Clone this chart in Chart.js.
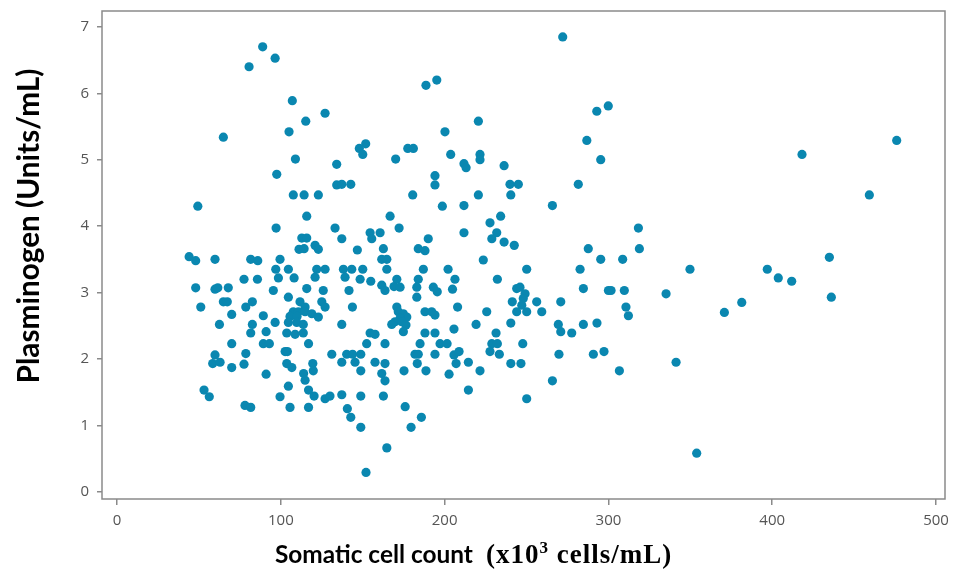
<!DOCTYPE html>
<html>
<head>
<meta charset="utf-8">
<script src="https://cdn.jsdelivr.net/npm/chart.js@4"></script>
<style>
  html, body { margin: 0; padding: 0; background: #fff; }
  canvas { display: block; }
</style>
</head>
<body>
<canvas id="scc" width="957" height="575"></canvas>
<script>
// somatic cell count (x10^3 cells/mL) for each milk sample
const cellCount = [
  88.9, 96.5, 80.6, 107.0, 115.2, 105.0, 64.9, 108.9, 97.5, 188.6,
  195.2, 127.0, 200.2, 151.8, 147.9, 150.0, 134.1, 170.1, 177.5, 180.9,
  203.7, 194.1, 194.1, 134.1, 137.2, 142.7, 272.1, 292.9, 299.9, 220.6,
  286.8, 295.3, 211.8, 213.1, 221.6, 221.6, 236.3, 239.9, 245.0, 281.6,
  418.2, 476.0, 49.3, 107.6, 114.2, 115.8, 97.1, 112.8, 115.8, 111.1,
  114.2, 44.0, 48.0, 59.8, 81.6, 85.9, 99.5, 96.9, 104.6, 98.5,
  108.1, 77.5, 85.7, 48.0, 59.8, 61.5, 67.9, 95.4, 115.8, 104.6,
  51.1, 64.9, 67.3, 78.6, 82.6, 111.7, 114.8, 70.0, 89.3, 107.6,
  110.7, 114.8, 105.6, 109.9, 62.5, 82.6, 96.5, 104.6, 109.7, 113.7,
  81.6, 91.0, 103.6, 108.7, 113.7, 122.9, 180.5, 198.6, 166.7, 133.1,
  172.2, 154.5, 160.6, 155.5, 137.2, 190.0, 120.9, 122.9, 146.7, 162.6,
  183.9, 188.0, 161.6, 164.7, 121.9, 127.0, 138.2, 143.3, 150.0, 164.7,
  187.0, 202.1, 120.9, 139.2, 148.4, 154.9, 161.6, 163.6, 170.8, 169.1,
  183.9, 183.0, 193.1, 195.5, 206.3, 204.8, 125.9, 141.6, 172.8, 183.0,
  118.9, 122.9, 125.0, 127.0, 143.7, 170.8, 171.7, 174.8, 176.9, 172.8,
  169.7, 167.7, 173.8, 176.4, 188.0, 192.1, 194.1, 207.9, 137.2, 154.5,
  157.5, 174.8, 188.0, 194.1, 205.7, 240.4, 220.6, 211.8, 265.8, 234.2,
  227.7, 231.8, 228.8, 236.3, 242.5, 211.8, 287.7, 295.3, 223.6, 250.1,
  282.7, 232.2, 244.0, 246.0, 249.1, 248.0, 247.1, 250.1, 244.0, 241.3,
  256.2, 259.3, 284.7, 300.0, 225.7, 270.9, 219.2, 240.4, 231.4, 269.4,
  270.9, 277.6, 284.7, 293.0, 459.3, 318.3, 318.9, 308.7, 349.8, 397.0,
  403.7, 411.9, 434.9, 436.1, 301.6, 309.7, 335.2, 310.7, 312.2, 381.4,
  370.8, 297.3, 306.7, 341.3, 353.9, 70.0, 89.3, 93.0, 102.6, 104.0,
  116.9, 59.8, 58.4, 62.9, 78.6, 70.0, 77.5, 91.0, 103.6, 106.7,
  113.9, 114.8, 104.6, 99.5, 53.1, 56.3, 78.1, 81.6, 105.6, 116.9,
  116.9, 119.5, 119.8, 120.3, 127.0, 130.0, 137.2, 152.4, 163.6, 185.0,
  197.2, 201.5, 131.1, 140.2, 143.8, 148.8, 181.9, 183.9, 194.1, 205.7,
  208.8, 137.2, 145.3, 157.5, 163.6, 183.3, 207.0, 148.8, 161.6, 163.6,
  175.2, 188.6, 202.7, 148.8, 162.6, 140.6, 142.7, 148.8, 175.9, 185.8,
  179.5, 164.7, 152.0, 228.8, 232.2, 247.7, 227.7, 233.4, 269.8, 290.8,
  214.5, 221.6, 240.4, 246.6, 214.5, 265.8, 250.1
];

// plasminogen (Units/mL), same order as cellCount
const plasminogen = [
  6.70, 6.53, 6.40, 5.89, 5.58, 5.42, 5.34, 5.01, 4.78, 6.12,
  6.20, 5.70, 5.42, 5.24, 5.17, 5.08, 4.93, 5.01, 5.17, 5.17,
  5.08, 4.76, 4.62, 4.62, 4.63, 4.63, 6.85, 5.73, 5.81, 5.58,
  5.29, 5.00, 4.94, 4.88, 5.08, 5.00, 4.91, 4.63, 4.63, 4.63,
  5.08, 5.29, 4.30, 4.47, 4.47, 4.15, 3.97, 3.82, 3.82, 3.65,
  3.66, 3.54, 3.48, 3.50, 3.50, 3.48, 3.50, 3.35, 3.35, 3.22,
  3.22, 3.20, 3.20, 3.07, 3.05, 3.07, 3.07, 3.03, 3.06, 2.93,
  2.78, 2.86, 2.86, 2.78, 2.86, 2.86, 2.78, 2.67, 2.65, 2.71,
  2.71, 2.71, 2.64, 2.64, 2.52, 2.52, 2.55, 2.55, 2.55, 2.52,
  2.39, 2.41, 2.39, 2.37, 2.39, 4.47, 4.47, 4.30, 4.15, 3.97,
  3.97, 3.90, 3.90, 3.81, 3.81, 3.81, 3.71, 3.65, 3.64, 3.66,
  3.66, 3.63, 3.50, 3.50, 3.35, 3.35, 3.35, 3.35, 3.35, 3.35,
  3.35, 3.35, 3.23, 3.23, 3.20, 3.17, 3.11, 3.03, 3.20, 3.09,
  3.20, 3.08, 3.08, 3.01, 3.20, 3.05, 3.03, 3.03, 3.08, 2.93,
  2.68, 2.63, 2.86, 2.78, 2.78, 2.78, 2.71, 2.68, 2.63, 2.61,
  2.56, 2.52, 2.56, 2.51, 2.71, 2.71, 2.66, 2.78, 2.52, 2.39,
  2.37, 2.41, 2.39, 2.39, 2.45, 4.47, 4.47, 4.31, 4.31, 4.15,
  4.05, 3.90, 3.81, 3.76, 3.71, 3.90, 3.66, 3.50, 3.49, 3.35,
  3.35, 3.20, 3.06, 3.08, 2.98, 2.91, 2.81, 2.71, 2.71, 2.86,
  2.86, 2.71, 3.06, 3.03, 2.71, 2.86, 2.52, 2.54, 2.39, 2.52,
  2.41, 2.39, 2.52, 2.54, 4.47, 3.97, 3.66, 3.50, 3.35, 3.35,
  3.22, 3.17, 3.53, 2.93, 3.03, 3.03, 2.98, 2.78, 2.65, 2.85,
  2.70, 2.11, 1.82, 1.95, 0.58, 2.23, 2.23, 2.23, 2.11, 2.11,
  2.23, 2.06, 1.93, 1.95, 2.08, 1.87, 1.92, 1.77, 1.93, 1.87,
  1.78, 1.68, 1.59, 1.43, 1.53, 1.43, 1.30, 1.27, 1.27, 1.27,
  1.53, 1.93, 1.82, 1.44, 1.40, 1.44, 1.46, 2.23, 2.23, 2.23,
  2.23, 2.23, 2.07, 2.07, 2.07, 2.07, 2.07, 2.07, 2.07, 2.06,
  2.11, 1.95, 1.95, 1.95, 1.93, 1.93, 1.93, 1.82, 1.78, 1.67,
  1.82, 1.82, 1.77, 1.44, 1.44, 1.25, 1.12, 0.97, 1.28, 1.12,
  0.97, 0.66, 0.29, 2.23, 2.23, 2.23, 2.11, 2.07, 2.07, 2.07,
  1.95, 1.82, 1.93, 1.93, 1.53, 1.67, 1.40
];

const xTicks = [0, 100, 200, 300, 400, 500];
const yTicks = [0, 1, 2, 3, 4, 5, 6, 7];

const dotColor = '#0a87b0';
const frameColor = '#8a8a8a';
const tickFont = { family: 'Open Sans', size: 15 };
const tickColor = '#555';

// set a bold font whose size makes `text` exactly `width` px wide
function fitFont(ctx, text, family, width) {
  ctx.font = `bold 20px ${family}`;
  const size = 20 * width / ctx.measureText(text).width;
  ctx.font = `bold ${size.toFixed(2)}px ${family}`;
  return size;
}

// box around the plot area plus both axis titles
const framePlugin = {
  id: 'frameAndTitles',
  afterDraw(chart) {
    const { ctx, chartArea: a } = chart;
    ctx.save();
    ctx.strokeStyle = frameColor;
    ctx.lineWidth = 1.5;
    ctx.strokeRect(a.left, a.top, a.right - a.left, a.bottom - a.top);

    ctx.fillStyle = '#000';
    ctx.textBaseline = 'alphabetic';

    // y title, rotated
    ctx.save();
    ctx.translate(39, 226);
    ctx.rotate(-Math.PI / 2);
    ctx.textAlign = 'center';
    const yTitle = 'Plasminogen (Units/mL)';
    fitFont(ctx, yTitle, 'Lato', 315);
    ctx.fillText(yTitle, 0, 0);
    ctx.restore();

    // x title: sans part, then serif part with superscript
    const base = 563;
    let x = 275;
    ctx.textAlign = 'left';
    const p1 = 'Somatic cell count';
    fitFont(ctx, p1, 'Lato', 198);
    ctx.fillText(p1, x, base);
    x = 486;
    const serif = '"Liberation Serif"';
    ctx.letterSpacing = '1px';
    ctx.font = `bold 27px ${serif}`;
    ctx.fillText('(x10', x, base);
    x += ctx.measureText('(x10').width;
    ctx.font = `bold 17px ${serif}`;
    ctx.fillText('3', x, base - 10);
    x += ctx.measureText('3').width;
    ctx.font = `bold 27px ${serif}`;
    ctx.fillText(' cells/mL)', x, base);
    ctx.restore();
  }
};

// drop the label overhang padding so the plot box sits where the layout puts it
function noOverhang(s) {
  s.paddingTop = 0;
  s.paddingBottom = 0;
  s.paddingLeft = 0;
  s.paddingRight = 0;
}

new Chart(document.getElementById('scc'), {
  type: 'scatter',
  data: {
    datasets: [{
      data: cellCount.map((v, i) => ({ x: v, y: plasminogen[i] })),
      backgroundColor: dotColor,
      borderWidth: 0,
      pointRadius: 4.6,
      pointHoverRadius: 4.6
    }]
  },
  options: {
    responsive: false,
    animation: false,
    devicePixelRatio: 1,
    layout: { padding: { left: 0, top: 11, right: 12, bottom: 0 } },
    plugins: { legend: { display: false }, tooltip: { enabled: false } },
    scales: {
      x: {
        type: 'linear',
        min: -9.2,
        max: 505.5,
        afterBuildTicks: s => { s.ticks = xTicks.map(v => ({ value: v })); },
        afterFit: s => { s.height = 76; noOverhang(s); },
        border: { display: false },
        grid: { drawOnChartArea: false, tickLength: 6, color: frameColor, lineWidth: 1.5 },
        ticks: { color: tickColor, font: tickFont, padding: 7, maxRotation: 0 }
      },
      y: {
        type: 'linear',
        min: -0.11,
        max: 7.24,
        afterBuildTicks: s => { s.ticks = yTicks.map(v => ({ value: v })); },
        afterFit: s => { s.width = 102; noOverhang(s); },
        border: { display: false },
        grid: { drawOnChartArea: false, tickLength: 5, color: frameColor, lineWidth: 1.5 },
        ticks: { color: tickColor, font: tickFont, padding: 8 }
      }
    }
  },
  plugins: [framePlugin]
});
</script>
</body>
</html>
